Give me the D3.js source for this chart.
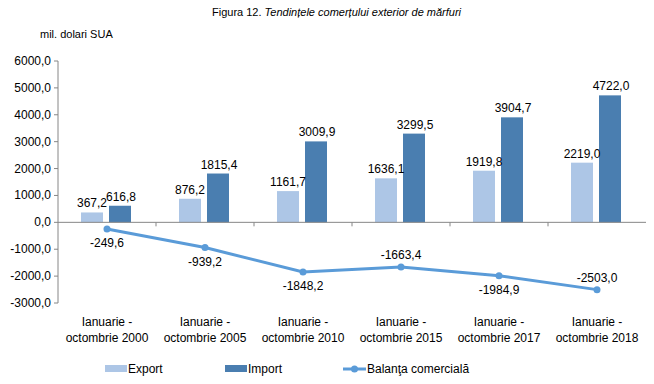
<!DOCTYPE html>
<html>
<head>
<meta charset="utf-8">
<script src="https://cdn.jsdelivr.net/npm/d3@7"></script>
<style>
  body { margin: 0; background: #fff; }
  svg { font-family: "Liberation Sans", Arial, sans-serif; }
</style>
</head>
<body>
<div id="chart"></div>
<script>
// data
var categories = ["2000", "2005", "2010", "2015", "2017", "2018"];
var exportVals = [367.2, 876.2, 1161.7, 1636.1, 1919.8, 2219.0];
var importVals = [616.8, 1815.4, 3009.9, 3299.5, 3904.7, 4722.0];
var balanta = [-249.6, -939.2, -1848.2, -1663.4, -1984.9, -2503.0];
var yTicks = [-3000, -2000, -1000, 0, 1000, 2000, 3000, 4000, 5000, 6000];
// where the balance label sits: 1 = below point, -1 = above
var balPos = [1, 1, 1, -1, 1, -1];

var width = 654, height = 384;
var fmt = function (v) { return v.toFixed(1).replace(".", ","); };

var svg = d3.select("#chart").append("svg")
  .attr("width", width).attr("height", height);

var x = d3.scaleBand().domain(categories).range([58, 646]);
var y = d3.scaleLinear().domain([-3000, 6000]).range([303, 61]);

var colExport = "#adc6e6", colImport = "#4a7eb0", colLine = "#5a9bd8", axisCol = "#868686";

// title
var title = svg.append("text").attr("x", 212).attr("y", 16).style("font-size", "11px");
title.append("tspan").text("Figura 12. ");
title.append("tspan").style("font-style", "italic").text("Tendințele comerțului exterior de mărfuri");

svg.append("text").attr("x", 40).attr("y", 38).style("font-size", "11px").text("mil. dolari SUA");

// y axis
svg.append("line").attr("x1", 58).attr("x2", 58).attr("y1", y(6000)).attr("y2", y(-3000))
  .attr("stroke", axisCol);
yTicks.forEach(function (t) {
  svg.append("line").attr("x1", 54).attr("x2", 58).attr("y1", y(t)).attr("y2", y(t)).attr("stroke", axisCol);
  svg.append("text").attr("x", 51).attr("y", y(t) + 4).attr("text-anchor", "end")
    .style("font-size", "12px").text(fmt(t));
});

// bars
var bw = 22;
categories.forEach(function (c, i) {
  var cx = x(c) + x.bandwidth() / 2;
  svg.append("rect").attr("x", cx - 26).attr("width", bw)
    .attr("y", y(exportVals[i])).attr("height", y(0) - y(exportVals[i])).attr("fill", colExport);
  svg.append("rect").attr("x", cx + 2).attr("width", bw)
    .attr("y", y(importVals[i])).attr("height", y(0) - y(importVals[i])).attr("fill", colImport);
  svg.append("text").attr("x", cx - 15).attr("y", y(exportVals[i]) - 5).attr("text-anchor", "middle")
    .style("font-size", "12px").text(fmt(exportVals[i]));
  svg.append("text").attr("x", cx + 14).attr("y", y(importVals[i]) - 5).attr("text-anchor", "middle")
    .style("font-size", "12px").text(fmt(importVals[i]));
});

// x axis at zero
svg.append("line").attr("x1", 58).attr("x2", 646).attr("y1", y(0)).attr("y2", y(0)).attr("stroke", axisCol);
categories.forEach(function (c, i) {
  if (i > 0) {
    svg.append("line").attr("x1", x(c)).attr("x2", x(c)).attr("y1", y(0)).attr("y2", y(0) + 4).attr("stroke", axisCol);
  }
  var cx = x(c) + x.bandwidth() / 2;
  var t = svg.append("text").attr("text-anchor", "middle").style("font-size", "12px");
  t.append("tspan").attr("x", cx).attr("y", 326).text("Ianuarie -");
  t.append("tspan").attr("x", cx).attr("y", 342).text("octombrie " + c);
});

// balance line
var line = d3.line()
  .x(function (d, i) { return x(categories[i]) + x.bandwidth() / 2; })
  .y(function (d) { return y(d); });
svg.append("path").datum(balanta).attr("d", line).attr("fill", "none")
  .attr("stroke", colLine).attr("stroke-width", 3);
balanta.forEach(function (v, i) {
  var cx = x(categories[i]) + x.bandwidth() / 2;
  svg.append("circle").attr("cx", cx).attr("cy", y(v)).attr("r", 3.5).attr("fill", colLine);
  svg.append("text").attr("x", cx).attr("y", balPos[i] > 0 ? y(v) + 18 : y(v) - 8)
    .attr("text-anchor", "middle").style("font-size", "12px").text(fmt(v));
});

// legend
var ly = 369;
svg.append("rect").attr("x", 105).attr("y", ly - 4).attr("width", 22).attr("height", 7).attr("fill", colExport);
svg.append("text").attr("x", 128).attr("y", ly + 4).style("font-size", "12px").text("Export");
svg.append("rect").attr("x", 225).attr("y", ly - 4).attr("width", 22).attr("height", 7).attr("fill", colImport);
svg.append("text").attr("x", 248).attr("y", ly + 4).style("font-size", "12px").text("Import");
svg.append("line").attr("x1", 343).attr("x2", 366).attr("y1", ly).attr("y2", ly).attr("stroke", colLine).attr("stroke-width", 3);
svg.append("circle").attr("cx", 354.5).attr("cy", ly).attr("r", 3.5).attr("fill", colLine);
svg.append("text").attr("x", 367).attr("y", ly + 4).style("font-size", "12px").text("Balanţa comercială");
</script>
</body>
</html>
